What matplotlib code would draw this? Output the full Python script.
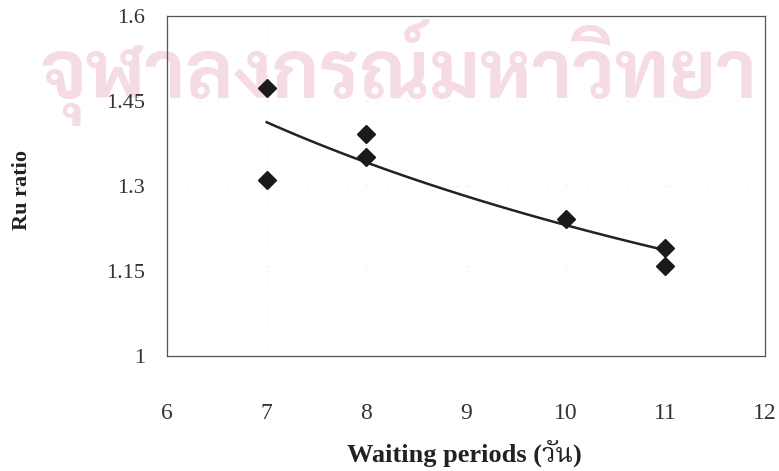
import numpy as np
import matplotlib
matplotlib.use("Agg")
import matplotlib.pyplot as plt
from matplotlib import font_manager as fm

waiting_days = [7, 7, 8, 8, 10, 11, 11]
ru_ratio = [1.473, 1.311, 1.392, 1.351, 1.242, 1.191, 1.159]
x_ticks = [6, 7, 8, 9, 10, 11, 12]
y_ticks = [1.0, 1.15, 1.3, 1.45, 1.6]
y_tick_labels = ["1", "1.15", "1.3", "1.45", "1.6"]
watermark = "จุฬาลงกรณ์มหาวิทยา"


def pick(cands):
    for c in cands:
        try:
            fm.findfont(fm.FontProperties(family=c), fallback_to_default=False)
            return c
        except Exception:
            pass
    return "DejaVu Sans"


thai_serif = pick(["Noto Serif Thai", "Sarabun", "Noto Sans Thai", "Athiti"])
thai_sans = pick(["Sarabun", "Noto Sans Thai Looped", "Noto Sans Thai", "Athiti"])

plt.rcParams['font.family'] = ['Liberation Serif', thai_serif]

fig = plt.figure(figsize=(7.79, 4.71), dpi=100)
ax = fig.add_axes([0.2144, 0.2442, 0.7676, 0.7218])
ax.patch.set_alpha(0)
ax.set_zorder(2)

# faint pink watermark of the scanned page, scaled to span the visible width
wm = fig.text(40 / 779, 1 - 98 / 471, watermark, color="#f5dbe4", fontsize=60,
              fontweight="bold", ha="left", va="baseline", zorder=0,
              family=[thai_sans, 'DejaVu Sans'])
fig.canvas.draw()
bb = wm.get_window_extent()
wm.set_fontsize(60 * 717 / bb.width)

# power trendline fitted to the data
xs = np.array(waiting_days, dtype=float)
ys = np.array(ru_ratio)
b, ln_a = np.polyfit(np.log(xs), np.log(ys), 1)
xl = np.linspace(min(xs), max(xs), 100)
ax.plot(xl, np.exp(ln_a) * xl ** b, color="#222222", lw=1.8, zorder=2)

ax.plot(waiting_days, ru_ratio, linestyle="none", marker="D", color="#1a1a1a",
        markersize=9, zorder=3)

ax.set_xlim(6, 12)
ax.set_ylim(1.0, 1.6)
ax.set_xticks(x_ticks)
ax.set_yticks(y_ticks)
ax.set_yticklabels(y_tick_labels)
ax.tick_params(axis="both", length=0, colors="#333333")
ax.tick_params(axis="x", pad=34, labelsize=17)
ax.tick_params(axis="y", pad=16, labelsize=16)
ax.grid(True, color="#e4e4e4", linestyle=(0, (1, 8)), lw=0.8)
for s in ax.spines.values():
    s.set_color("#555555")
    s.set_linewidth(0.9)

ax.set_xlabel("Waiting periods (วัน)", fontsize=19, fontweight="bold", color="#222222")
ax.xaxis.set_label_coords(0.498, -0.246)
ax.set_ylabel("Ru ratio", fontsize=16, fontweight="bold", color="#222222")
ax.yaxis.set_label_coords(-0.225, 0.488)

fig.savefig("out.png", dpi=100)
